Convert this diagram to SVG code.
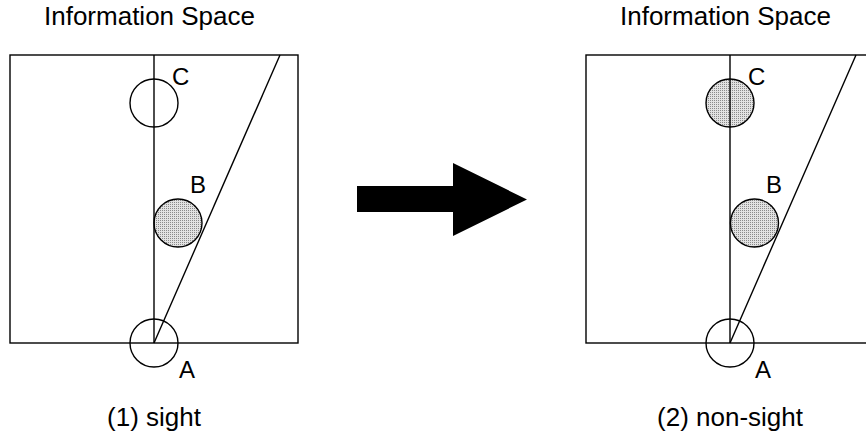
<svg xmlns="http://www.w3.org/2000/svg" width="866" height="437" viewBox="0 0 866 437">
  <style>
    .ln { stroke: #000; stroke-width: 1.4; fill: none; }
    .ring { stroke: #000; stroke-width: 1.4; fill: none; }
    .dot { stroke: #000; stroke-width: 1.4; fill: url(#stipple); }
    .title { font-family: "Liberation Sans", Arial, sans-serif; font-size: 26px; fill: #000; text-anchor: middle; }
    .lbl { font-family: "Liberation Sans", Arial, sans-serif; font-size: 24px; fill: #000; }
  </style>
  <defs>
    <pattern id="stipple" width="2" height="2" patternUnits="userSpaceOnUse">
      <rect width="2" height="2" fill="#e2e2e2"/>
      <rect width="1" height="1" fill="#8a8a8a"/>
    </pattern>
  </defs>
  <rect width="866" height="437" fill="#fff"/>

  <g id="panel-sight">
    <text class="title" x="149.5" y="25">Information Space</text>
    <g id="node-C1"><circle class="ring" cx="154" cy="103" r="24"/><text class="lbl" x="172" y="85">C</text></g>
    <g id="node-B1"><circle class="dot" cx="178" cy="223" r="24"/><text class="lbl" x="190" y="193">B</text></g>
    <g id="node-A1"><circle class="ring" cx="154" cy="343" r="24"/><text class="lbl" x="179" y="378">A</text></g>
    <g id="lines-1">
      <rect class="ln" x="10" y="55" width="288" height="288"/>
      <line class="ln" x1="154" y1="55" x2="154" y2="343"/>
      <line class="ln" x1="154" y1="343" x2="280" y2="55"/>
    </g>
    <text class="title" x="154" y="426">(1) sight</text>
  </g>

  <g id="connectors">
    <polygon points="357,186 453,186 453,163 527,199.5 453,236 453,212 357,212" fill="#000"/>
  </g>

  <g id="panel-nonsight">
    <text class="title" x="725.5" y="25">Information Space</text>
    <g id="node-C2"><circle class="dot" cx="730" cy="103" r="24"/><text class="lbl" x="748" y="85">C</text></g>
    <g id="node-B2"><circle class="dot" cx="754.5" cy="223" r="24"/><text class="lbl" x="766" y="193">B</text></g>
    <g id="node-A2"><circle class="ring" cx="730" cy="343" r="24"/><text class="lbl" x="755" y="378">A</text></g>
    <g id="lines-2">
      <rect class="ln" x="586" y="55" width="288" height="288"/>
      <line class="ln" x1="730" y1="55" x2="730" y2="343"/>
      <line class="ln" x1="730" y1="343" x2="856" y2="55"/>
    </g>
    <text class="title" x="730" y="426">(2) non-sight</text>
  </g>
</svg>
